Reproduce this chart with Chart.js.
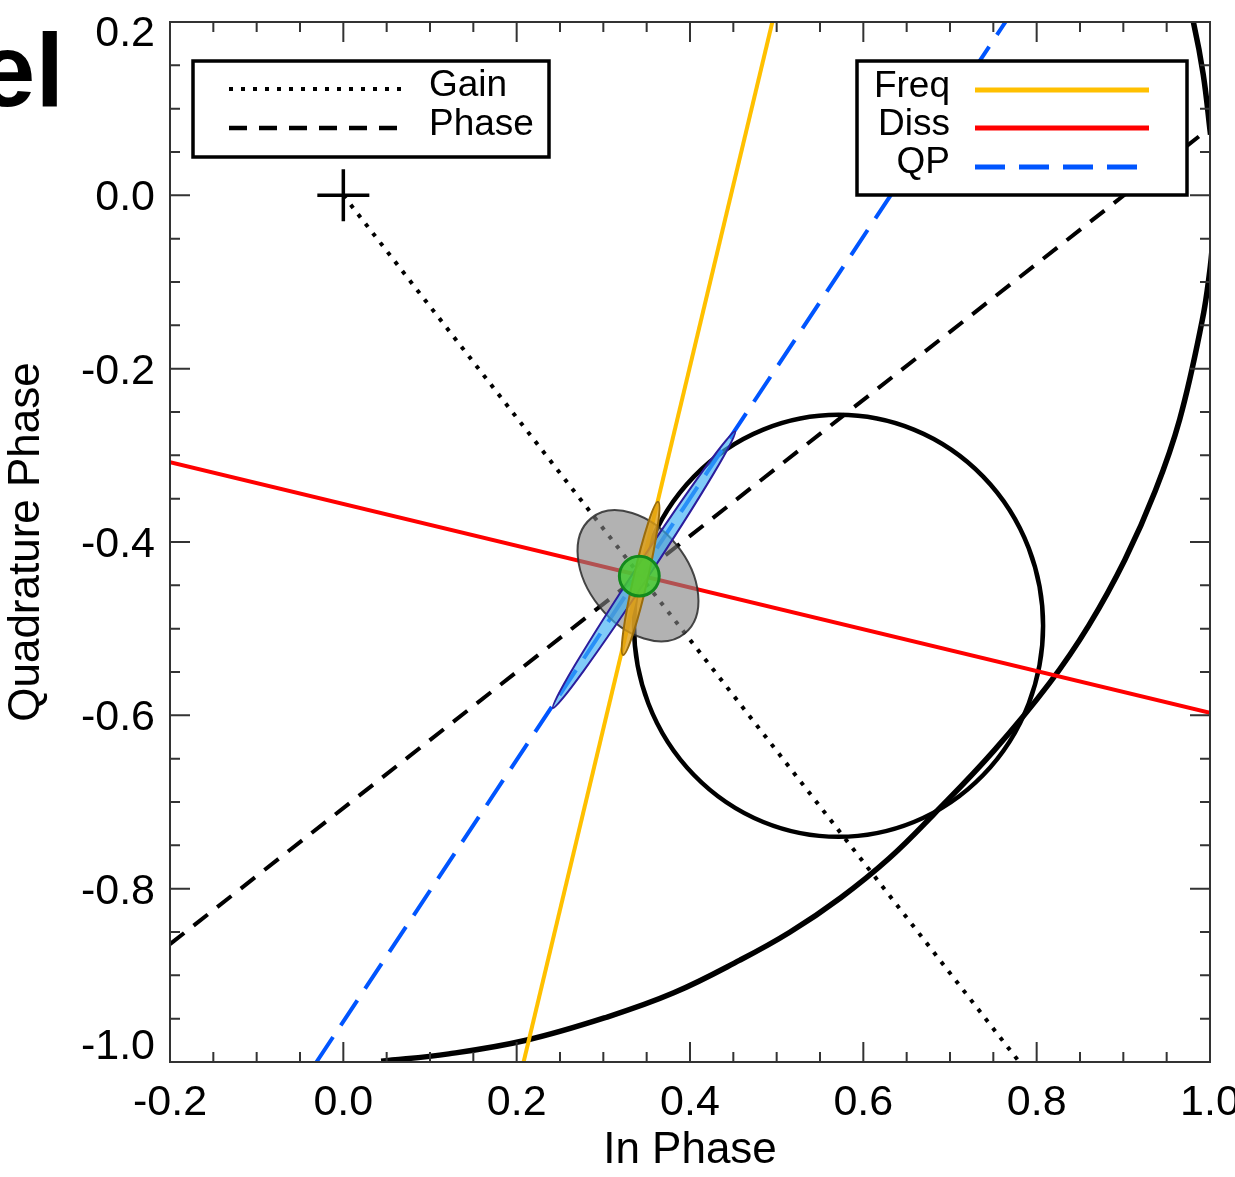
<!DOCTYPE html>
<html>
<head>
<meta charset="utf-8">
<script src="https://cdn.jsdelivr.net/npm/chart.js@4.4.1/dist/chart.umd.min.js"></script>
<style>
  html, body { margin: 0; padding: 0; background: #fff; }
</style>
</head>
<body>
<canvas id="chart-iq" width="1235" height="1177"></canvas>
<script>
// 目盛り
const xTicks = [-0.2, 0.0, 0.2, 0.4, 0.6, 0.8, 1.0];
const yTicks = [0.2, 0.0, -0.2, -0.4, -0.6, -0.8, -1.0];

// 直線（両端の座標）
const gainX = [0.0, 0.78];
const gainY = [0.0, -1.0];
const phaseX = [-0.2, 1.0];
const phaseY = [-0.864, 0.078];
const freqX = [0.208, 0.495];
const freqY = [-1.0, 0.2];
const dissX = [-0.2, 1.0];
const dissY = [-0.308, -0.597];
const qpX = [-0.031, 0.764];
const qpY = [-1.0, 0.2];

// 大きな弧（下側・右上の2本、図から読み取り）
const arcLowX = [0.0436, 0.1216, 0.2108, 0.3044, 0.3812, 0.4576, 0.5151, 0.5739, 0.6302, 0.6818, 0.7505, 0.815, 0.86, 0.9018, 0.9369, 0.965, 0.991, 0.9997, 1.004];
const arcLowY = [-0.999, -0.9906, -0.9749, -0.9481, -0.9202, -0.8825, -0.8503, -0.8104, -0.7646, -0.7136, -0.641, -0.5626, -0.4965, -0.4205, -0.341, -0.2586, -0.1445, -0.0875, -0.0438];
const arcTopX = [1.0006, 0.9922, 0.9809, 0.9659];
const arcTopY = [0.07, 0.1394, 0.1996, 0.2588];

// 原点の十字
const originX = [0.0];
const originY = [0.0];

// 共振円 [cx, cy, rx, ry]
const resCircle = [0.5714, -0.4967, 0.236, 0.2435];

// 楕円 [cx, cy, 長半径, 短半径, 角度(deg)]
const grayEllipse = [0.340, -0.439, 0.0856, 0.057, -51];
const qpEllipse = [0.347, -0.432, 0.191, 0.0085, 56.6];
const freqEllipse = [0.343, -0.442, 0.0906, 0.0082, 77.1];
const greenDot = [0.3415, -0.4393, 0.023];

const FONT = '"Liberation Sans", Arial, sans-serif';

function lineSet(label, xs, ys, color, width, dash, tension) {
  return {
    label: label,
    data: xs.map((x, i) => ({ x: x, y: ys[i] })),
    showLine: true,
    borderColor: color,
    backgroundColor: color,
    borderWidth: width,
    borderDash: dash,
    borderCapStyle: "butt",
    pointRadius: 0,
    tension: tension || 0,
    clip: 0,
  };
}

function clipArea(ctx, a) {
  ctx.beginPath();
  ctx.rect(a.left, a.top, a.right - a.left, a.bottom - a.top);
  ctx.clip();
}

// 円・楕円・枠・目盛り・凡例を描くプラグイン
const overlay = {
  id: "overlay",
  beforeDatasetsDraw(chart) {
    const { ctx, chartArea } = chart;
    const sx = chart.scales.x, sy = chart.scales.y;
    const ux = sx.getPixelForValue(1) - sx.getPixelForValue(0);
    const uy = sy.getPixelForValue(0) - sy.getPixelForValue(1);
    ctx.save();
    clipArea(ctx, chartArea);
    ctx.beginPath();
    ctx.ellipse(sx.getPixelForValue(resCircle[0]), sy.getPixelForValue(resCircle[1]),
      resCircle[2] * ux, resCircle[3] * uy, 0, 0, Math.PI * 2);
    ctx.lineWidth = 4.5;
    ctx.strokeStyle = "#000";
    ctx.stroke();
    ctx.restore();
  },
  afterDatasetsDraw(chart) {
    const { ctx, chartArea } = chart;
    const sx = chart.scales.x, sy = chart.scales.y;
    const ux = sx.getPixelForValue(1) - sx.getPixelForValue(0);
    const uy = sy.getPixelForValue(0) - sy.getPixelForValue(1);

    ctx.save();
    clipArea(ctx, chartArea);
    // 誤差楕円
    const ell = (e, fill, stroke, w) => {
      ctx.beginPath();
      ctx.ellipse(sx.getPixelForValue(e[0]), sy.getPixelForValue(e[1]), e[2] * ux, e[3] * uy, -e[4] * Math.PI / 180, 0, Math.PI * 2);
      ctx.fillStyle = fill;
      ctx.fill();
      ctx.lineWidth = w;
      ctx.strokeStyle = stroke;
      ctx.stroke();
    };
    ell(grayEllipse, "rgba(130,130,130,0.62)", "rgba(40,40,40,0.85)", 2);
    ell(qpEllipse, "rgba(60,175,245,0.65)", "#2c1c9c", 2);
    ell(freqEllipse, "rgba(225,160,20,0.8)", "#9a6c0c", 2);
    ell([greenDot[0], greenDot[1], greenDot[2], greenDot[2], 0], "rgba(70,205,50,0.85)", "#138a1c", 3);
    ctx.restore();
  },
  afterDraw(chart) {
    const { ctx, chartArea } = chart;
    const sx = chart.scales.x, sy = chart.scales.y;
    const { left, right, top, bottom } = chartArea;

    ctx.save();
    // 枠
    ctx.strokeStyle = "#333";
    ctx.lineWidth = 2;
    ctx.strokeRect(left, top, right - left, bottom - top);

    // 内向きの目盛り（0.05刻み、0.2ごとに長く）
    ctx.beginPath();
    for (let i = 0; i <= 24; i++) {
      const len = i % 4 === 0 ? 20 : 10;
      const px = sx.getPixelForValue(-0.2 + i * 0.05);
      ctx.moveTo(px, bottom); ctx.lineTo(px, bottom - len);
      ctx.moveTo(px, top); ctx.lineTo(px, top + len);
      const py = sy.getPixelForValue(-1.0 + i * 0.05);
      ctx.moveTo(left, py); ctx.lineTo(left + len, py);
      ctx.moveTo(right, py); ctx.lineTo(right - len, py);
    }
    ctx.stroke();

    // y軸の数字
    ctx.fillStyle = "#000";
    ctx.font = "43px " + FONT;
    ctx.textAlign = "right";
    ctx.textBaseline = "middle";
    yTicks.forEach(v => {
      let py = sy.getPixelForValue(v) + 3;
      py = Math.min(Math.max(py, top + 12), bottom - 15);
      ctx.fillText(v.toFixed(1), left - 15, py);
    });

    // 左上の切れた見出し
    ctx.font = "bold 103px " + FONT;
    ctx.textAlign = "right";
    ctx.textBaseline = "alphabetic";
    ctx.fillText("el", 64, 106);

    // 凡例
    const ds = {};
    chart.data.datasets.forEach(d => { ds[d.label] = d; });
    const sample = (d, x1, x2, y, w) => {
      ctx.beginPath();
      ctx.setLineDash(d.borderDash || []);
      ctx.strokeStyle = d.borderColor;
      ctx.lineWidth = w;
      ctx.moveTo(x1, y); ctx.lineTo(x2, y);
      ctx.stroke();
      ctx.setLineDash([]);
    };
    const box = (x, y, w, h) => {
      ctx.fillStyle = "#fff";
      ctx.fillRect(x, y, w, h);
      ctx.strokeStyle = "#000";
      ctx.lineWidth = 3.5;
      ctx.strokeRect(x, y, w, h);
    };

    box(193, 61, 356, 96);
    sample(ds["Gain"], 229, 403, 89, 4);
    sample(ds["Phase"], 229, 400, 128, 4.5);
    ctx.fillStyle = "#000";
    ctx.font = "37px " + FONT;
    ctx.textAlign = "left";
    ctx.textBaseline = "middle";
    ctx.fillText("Gain", 429, 86);
    ctx.fillText("Phase", 429, 125);

    box(857, 61, 330, 134);
    sample(ds["Freq"], 975, 1149, 90, 5);
    sample(ds["Diss"], 975, 1149, 128, 5);
    sample(ds["QP"], 975, 1149, 167, 5);
    ctx.fillStyle = "#000";
    ctx.textAlign = "right";
    ["Freq", "Diss", "QP"].forEach((t, i) => ctx.fillText(t, 950, 87 + i * 38));
    ctx.restore();
  },
};

document.addEventListener("DOMContentLoaded", () => {
  const ctxIQ = document.getElementById("chart-iq");
  new Chart(ctxIQ, {
    type: "scatter",
    data: {
      datasets: [
        {
          label: "origin",
          data: originX.map((x, i) => ({ x: x, y: originY[i] })),
          pointStyle: "cross",
          pointRadius: 26,
          pointHoverRadius: 26,
          pointBorderWidth: 3.5,
          pointBorderColor: "#000",
          clip: false,
        },
        lineSet("Diss", dissX, dissY, "#ff0000", 4, []),
        lineSet("Freq", freqX, freqY, "#ffc000", 4, []),
        lineSet("QP", qpX, qpY, "#0055ff", 4, [30, 14]),
        lineSet("Phase", phaseX, phaseY, "#000", 4, [18, 12]),
        lineSet("Gain", gainX, gainY, "#000", 4, [4, 8]),
        lineSet("arcLow", arcLowX, arcLowY, "#000", 5.5, [], 0.4),
        lineSet("arcTop", arcTopX, arcTopY, "#000", 5.5, [], 0.4),
      ],
    },
    options: {
      responsive: false,
      animation: false,
      events: [],
      layout: { autoPadding: false, padding: { top: 22, right: 25, left: 0, bottom: 0 } },
      plugins: { legend: { display: false }, tooltip: { enabled: false } },
      scales: {
        x: {
          type: "linear",
          min: -0.2,
          max: 1.0,
          grid: { display: false, drawTicks: false },
          border: { display: false },
          afterBuildTicks: s => { s.ticks = xTicks.map(v => ({ value: v })); },
          afterFit: s => { s.height = 115; s.paddingLeft = 0; s.paddingRight = 0; },
          ticks: {
            color: "#000",
            padding: 20,
            maxRotation: 0,
            autoSkip: false,
            font: { family: FONT, size: 43, lineHeight: 1 },
            callback: v => Number(v).toFixed(1),
          },
          title: {
            display: true,
            text: "In Phase",
            color: "#000",
            padding: { top: 0, bottom: 4 },
            font: { family: FONT, size: 44, lineHeight: 1 },
          },
        },
        y: {
          type: "linear",
          min: -1.0,
          max: 0.2,
          grid: { display: false, drawTicks: false },
          border: { display: false },
          afterFit: s => { s.width = 170; s.paddingTop = 0; s.paddingBottom = 0; },
          ticks: { display: false, stepSize: 0.2 },
          title: {
            display: true,
            text: "Quadrature Phase",
            color: "#000",
            padding: { top: 5, bottom: 0 },
            font: { family: FONT, size: 44, lineHeight: 1 },
          },
        },
      },
    },
    plugins: [overlay],
  });
});
</script>
</body>
</html>
